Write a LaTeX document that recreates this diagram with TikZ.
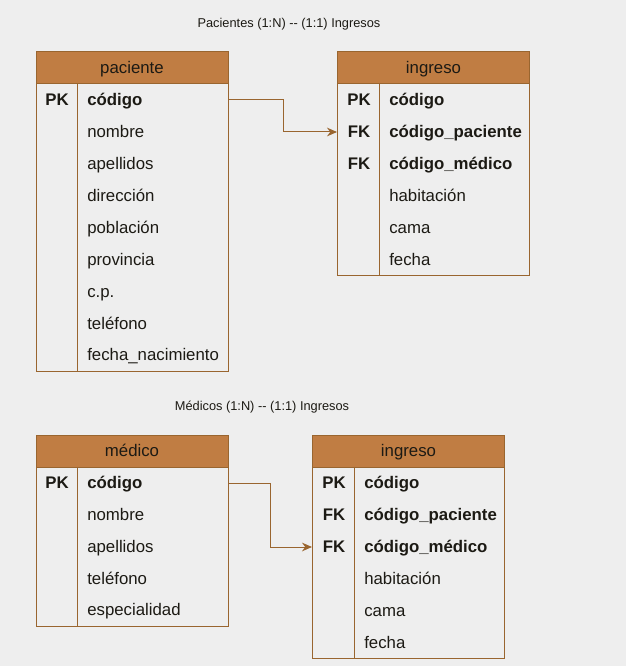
\documentclass[tikz,border=0pt]{standalone}
\usepackage{fontspec}
\setmainfont{Liberation Sans}
\usetikzlibrary{positioning,arrows.meta}
\definecolor{bgGray}{HTML}{EEEEEE}
\definecolor{hdrFill}{HTML}{C07D43}
\definecolor{edgeBrown}{HTML}{99652F}
\definecolor{inkDark}{HTML}{1C1A14}

\begin{document}
\begin{tikzpicture}[x=0.75pt,y=-0.75pt,
  hdr/.style={draw=edgeBrown,line width=0.75pt,fill=hdrFill,minimum width=144pt,minimum height=24pt,inner sep=0pt,font=\fontsize{12.6}{14}\selectfont,text=inkDark,text height=9.8pt,text depth=2pt},
  tbody/.style={draw=edgeBrown,line width=0.75pt,minimum width=144pt,inner sep=0pt},
  key/.style={font=\fontsize{12.6}{14}\selectfont\bfseries,text=inkDark,inner sep=0pt,text height=9.8pt,text depth=2pt},
  fld/.style={font=\fontsize{12.6}{14}\selectfont,text=inkDark,inner sep=0pt,anchor=west,text height=9.8pt,text depth=2pt},
  fldb/.style={fld,font=\fontsize{12.6}{14}\selectfont\bfseries},
  ttl/.style={font=\fontsize{9.6}{11}\selectfont,text=inkDark},
  rel/.style={draw=edgeBrown,line width=0.75pt,-{Stealth[length=7.5pt,width=6.5pt]}}]
  % page
  \fill[bgGray] (0,0) rectangle (626,666);
  \useasboundingbox (0,0) rectangle (626,666);

  % titles
  \node[ttl] (t1) at (289,24) {Pacientes (1:N) -{}- (1:1) Ingresos};
  \node[ttl] (t2) at (262,407) {Médicos (1:N) -{}- (1:1) Ingresos};

  % paciente table
  \node[hdr] (phead) at (132,68) {paciente};
  \node[tbody,minimum height=215.25pt] (pbody) at (132,227.5) {};
  \draw[edgeBrown,line width=0.75pt] ([xshift=31.5pt]pbody.north west) -- ([xshift=31.5pt]pbody.south west);
  \node[key] (pk1) at (57,100) {PK};
  \node[fldb] (pf1) at (87,100) {código};
  \node[fld] (pf2) at (87,132) {nombre};
  \node[fld] (pf3) at (87,164) {apellidos};
  \node[fld] (pf4) at (87,196) {dirección};
  \node[fld] (pf5) at (87,228) {población};
  \node[fld] (pf6) at (87,260) {provincia};
  \node[fld] (pf7) at (87,292) {c.p.};
  \node[fld] (pf8) at (87,324) {teléfono};
  \node[fld] (pf9) at (87,355) {fecha\_nacimiento};

  % ingreso table (top)
  \node[hdr] (ihead) at (433.5,68) {ingreso};
  \node[tbody,minimum height=143.25pt] (ibody) at (433.5,179.5) {};
  \draw[edgeBrown,line width=0.75pt] ([xshift=31.5pt]ibody.north west) -- ([xshift=31.5pt]ibody.south west);
  \node[key] (ik1) at (359,100) {PK};
  \node[key] (ik2) at (359,132) {FK};
  \node[key] (ik3) at (359,164) {FK};
  \node[fldb] (if1) at (389,100) {código};
  \node[fldb] (if2) at (389,132) {código\_paciente};
  \node[fldb] (if3) at (389,164) {código\_médico};
  \node[fld] (if4) at (389,196) {habitación};
  \node[fld] (if5) at (389,228) {cama};
  \node[fld] (if6) at (389,260) {fecha};

  % medico table
  \node[hdr] (mhead) at (132,451) {médico};
  \node[tbody,minimum height=119.25pt] (mbody) at (132,546.5) {};
  \draw[edgeBrown,line width=0.75pt] ([xshift=31.5pt]mbody.north west) -- ([xshift=31.5pt]mbody.south west);
  \node[key] (mk1) at (57,483) {PK};
  \node[fldb] (mf1) at (87,483) {código};
  \node[fld] (mf2) at (87,515) {nombre};
  \node[fld] (mf3) at (87,547) {apellidos};
  \node[fld] (mf4) at (87,579) {teléfono};
  \node[fld] (mf5) at (87,610) {especialidad};

  % ingreso table (bottom)
  \node[hdr] (jhead) at (408.5,451) {ingreso};
  \node[tbody,minimum height=143.25pt] (jbody) at (408.5,562.5) {};
  \draw[edgeBrown,line width=0.75pt] ([xshift=31.5pt]jbody.north west) -- ([xshift=31.5pt]jbody.south west);
  \node[key] (jk1) at (334,483) {PK};
  \node[key] (jk2) at (334,515) {FK};
  \node[key] (jk3) at (334,547) {FK};
  \node[fldb] (jf1) at (364,483) {código};
  \node[fldb] (jf2) at (364,515) {código\_paciente};
  \node[fldb] (jf3) at (364,547) {código\_médico};
  \node[fld] (jf4) at (364,579) {habitación};
  \node[fld] (jf5) at (364,611) {cama};
  \node[fld] (jf6) at (364,643) {fecha};

  % relations
  \draw[rel] (pbody.east |- pf1) -- ++(55,0) |- (ibody.west |- if2);
  \draw[rel] (mbody.east |- mf1) -- ++(42,0) |- (jbody.west |- jf3);
\end{tikzpicture}
\end{document}
